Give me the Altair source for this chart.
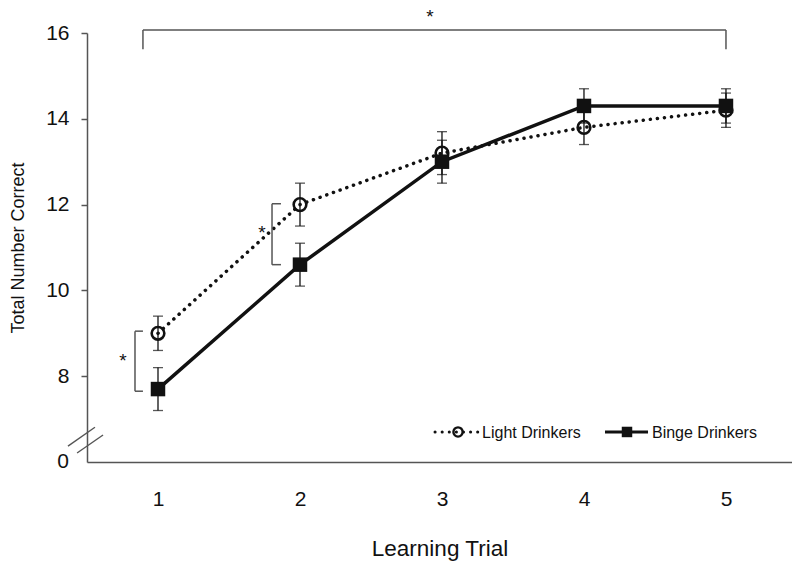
import altair as alt
import pandas as pd

trials = [1, 2, 3, 4, 5]
light_mean = [9.0, 12.0, 13.2, 13.8, 14.2]
light_err = [0.4, 0.5, 0.5, 0.4, 0.4]
binge_mean = [7.7, 10.6, 13.0, 14.3, 14.3]
binge_err = [0.5, 0.5, 0.5, 0.4, 0.4]
groups = ["Light Drinkers", "Binge Drinkers"]
y_ticks = [8, 10, 12, 14, 16]

FONT = "Liberation Sans"
INK = "#111111"
GREY = "#555555"

rows = []
for g, means, errs in [(groups[0], light_mean, light_err), (groups[1], binge_mean, binge_err)]:
    for t, m, e in zip(trials, means, errs):
        rows.append({"group": g, "trial": t, "mean": m, "lo": m - e, "hi": m + e})
df = pd.DataFrame(rows)
light = df[df.group == groups[0]]
binge = df[df.group == groups[1]]

xs = alt.Scale(domain=[0.5, 5.465], nice=False, zero=False)
ys = alt.Scale(domain=[6, 16], nice=False, zero=False)

X = alt.X("trial:Q", scale=xs, axis=alt.Axis(values=trials, title="Learning Trial", tickSize=0,
          labelPadding=26, titlePadding=28, labelFontSize=21, titleFontSize=22.5, grid=False,
          format="d"))
Y = alt.Y("mean:Q", scale=ys, axis=alt.Axis(values=y_ticks, title="Total Number Correct", tickSize=6,
          labelPadding=12, titlePadding=18, labelFontSize=21, titleFontSize=18, grid=False))

base_l = alt.Chart(light)
base_b = alt.Chart(binge)

line_l = base_l.mark_line(color=INK, strokeWidth=3.5, strokeDash=[0.1, 7], strokeCap="round").encode(x=X, y=Y)
line_b = base_b.mark_line(color=INK, strokeWidth=3.5).encode(x=X, y=Y)

err_rule = alt.Chart(df).mark_rule(color=INK, strokeWidth=1.3).encode(
    x="trial:Q", y="lo:Q", y2="hi:Q")
cap_lo = alt.Chart(df).mark_tick(color=INK, orient="horizontal", size=10, thickness=1.3).encode(
    x="trial:Q", y="lo:Q")
cap_hi = alt.Chart(df).mark_tick(color=INK, orient="horizontal", size=10, thickness=1.3).encode(
    x="trial:Q", y="hi:Q")

pts_l = base_l.mark_point(shape="circle", filled=False, size=160, strokeWidth=2.6, color=INK, opacity=1).encode(
    x="trial:Q", y="mean:Q")
pts_b = base_b.mark_square(size=210, color=INK, opacity=1).encode(x="trial:Q", y="mean:Q")

# significance brackets and axis break (decorations in data units)
seg_x = [0.894, 0.894, 5.0, 0.838, 0.838, 0.838, 1.803, 1.803, 1.803]
seg_x2 = [5.0, 0.894, 5.0, 0.838, 0.894, 0.894, 1.803, 1.866, 1.866]
seg_y = [16.07, 16.07, 16.07, 9.05, 9.05, 7.65, 12.02, 12.02, 10.6]
seg_y2 = [16.07, 15.62, 15.62, 7.65, 9.05, 7.65, 10.6, 12.02, 10.6]
segs = pd.DataFrame({"x": seg_x, "x2": seg_x2, "y": seg_y, "y2": seg_y2})
brackets = alt.Chart(segs).mark_rule(color=GREY, strokeWidth=1.5).encode(
    x=alt.X("x:Q", scale=xs), x2="x2:Q", y=alt.Y("y:Q", scale=ys), y2="y2:Q")

brk = pd.DataFrame({"x": [0.366, 0.43], "x2": [0.556, 0.613], "y": [6.37, 6.21], "y2": [6.81, 6.63]})
breaks = alt.Chart(brk).mark_rule(color=GREY, strokeWidth=1.4).encode(
    x=alt.X("x:Q", scale=xs), x2="x2:Q", y=alt.Y("y:Q", scale=ys), y2="y2:Q")

stars = pd.DataFrame({"x": [0.754, 1.732], "y": [8.44, 11.44], "t": ["*", "*"]})
star_txt = alt.Chart(stars).mark_text(font=FONT, fontSize=19, color=INK, baseline="middle", dy=4).encode(
    x=alt.X("x:Q", scale=xs), y=alt.Y("y:Q", scale=ys), text="t:N")
top_star = pd.DataFrame({"x": [2.915], "y": [16.58], "t": ["*"]})
top_star_txt = alt.Chart(top_star).mark_text(font=FONT, fontSize=19, color=INK, baseline="top").encode(
    x=alt.X("x:Q", scale=xs), y=alt.Y("y:Q", scale=ys), text="t:N")

zero = pd.DataFrame({"x": [0.5], "y": [6], "t": ["0"]})
zero_txt = alt.Chart(zero).mark_text(font=FONT, fontSize=21, color=INK, align="right", baseline="middle",
                                     dx=-18).encode(x=alt.X("x:Q", scale=xs), y=alt.Y("y:Q", scale=ys), text="t:N")

# legend
leg_y = 6.70
leg_line_l = alt.Chart(pd.DataFrame({"x": [2.951, 3.268], "y": [leg_y, leg_y]})).mark_line(
    color=INK, strokeWidth=3, strokeDash=[0.1, 7], strokeCap="round").encode(
    x=alt.X("x:Q", scale=xs), y=alt.Y("y:Q", scale=ys))
leg_line_b = alt.Chart(pd.DataFrame({"x": [4.148, 4.451], "y": [leg_y, leg_y]})).mark_line(
    color=INK, strokeWidth=3).encode(x=alt.X("x:Q", scale=xs), y=alt.Y("y:Q", scale=ys))
leg_pt_l = alt.Chart(pd.DataFrame({"x": [3.113], "y": [leg_y]})).mark_point(
    shape="circle", filled=False, size=85, strokeWidth=2.4, color=INK, opacity=1).encode(
    x=alt.X("x:Q", scale=xs), y=alt.Y("y:Q", scale=ys))
leg_pt_b = alt.Chart(pd.DataFrame({"x": [4.303], "y": [leg_y]})).mark_square(
    size=110, color=INK, opacity=1).encode(x=alt.X("x:Q", scale=xs), y=alt.Y("y:Q", scale=ys))
leg_txt = alt.Chart(pd.DataFrame({"x": [3.282, 4.479], "y": [leg_y, leg_y], "t": groups})).mark_text(
    font=FONT, fontSize=16, color=INK, align="left", baseline="middle", dy=1).encode(
    x=alt.X("x:Q", scale=xs), y=alt.Y("y:Q", scale=ys), text="t:N")

chart = alt.layer(
    line_l, line_b, brackets, breaks, err_rule, cap_lo, cap_hi, pts_l, pts_b,
    star_txt, top_star_txt, zero_txt, leg_line_l, leg_line_b, leg_pt_l, leg_pt_b, leg_txt
).properties(
    width=705, height=429,
    autosize=alt.AutoSizeParams(type="none"),
    padding={"left": 79, "top": 25, "right": 0, "bottom": 100},
    background="white",
).configure_axis(
    domainColor=GREY, domainWidth=1.5, tickColor=GREY, tickWidth=1.5,
    labelFont=FONT, titleFont=FONT, labelColor=INK, titleColor=INK, titleFontWeight="normal",
).configure_view(strokeOpacity=0)

chart.save("out.html", embed_options={"renderer": "svg", "actions": False})
